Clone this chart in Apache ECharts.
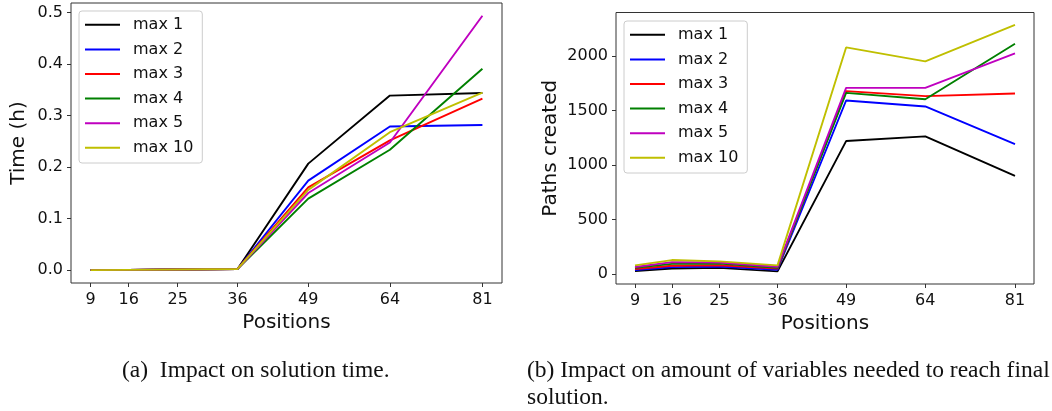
<!DOCTYPE html>
<html>
<head>
<meta charset="utf-8">
<script src="https://cdn.jsdelivr.net/npm/echarts@6/dist/echarts.min.js"></script>
<style>html,body{margin:0;padding:0;background:#fff}#c{width:1052px;height:411px}</style>
</head>
<body>
<div id="c"></div>
<script>
// ---- data ----
const positions = [9, 16, 25, 36, 49, 64, 81];
const seriesNames = ['max 1', 'max 2', 'max 3', 'max 4', 'max 5', 'max 10'];
const colors = ['#000000', '#0000ff', '#ff0000', '#008000', '#bf00bf', '#bfbf00'];

// Time (h)
const timeMax1  = [0.0003, 0.0008, 0.0015, 0.0025, 0.207, 0.339, 0.344];
const timeMax2  = [0.0003, 0.0008, 0.0015, 0.0025, 0.174, 0.279, 0.282];
const timeMax3  = [0.0003, 0.0008, 0.0015, 0.0025, 0.161, 0.252, 0.333];
const timeMax4  = [0.0003, 0.0008, 0.0015, 0.0025, 0.139, 0.234, 0.391];
const timeMax5  = [0.0003, 0.0008, 0.0015, 0.0025, 0.150, 0.248, 0.494];
const timeMax10 = [0.0003, 0.0008, 0.0015, 0.0025, 0.156, 0.268, 0.345];

// Paths created
const pathsMax1  = [26, 50, 55, 23, 1221, 1264, 901];
const pathsMax2  = [36, 62, 68, 38, 1594, 1539, 1194];
const pathsMax3  = [45, 75, 80, 48, 1680, 1634, 1658];
const pathsMax4  = [55, 92, 95, 55, 1664, 1606, 2116];
const pathsMax5  = [63, 108, 105, 65, 1710, 1710, 2027];
const pathsMax10 = [78, 127, 115, 78, 2082, 1954, 2290];

const timeTicks = [0, 0.1, 0.2, 0.3, 0.4, 0.5];
const pathsTicks = [0, 500, 1000, 1500, 2000];

const captionA = '(a)  Impact on solution time.';
const captionB = '(b) Impact on amount of variables needed to reach final\nsolution.';

// ---- build ----
const timeData = [timeMax1, timeMax2, timeMax3, timeMax4, timeMax5, timeMax10];
const pathsData = [pathsMax1, pathsMax2, pathsMax3, pathsMax4, pathsMax5, pathsMax10];

const FONT = 'DejaVu Sans';
const axisCol = '#333';

function xAxisCfg(gridIndex) {
  return {
    gridIndex, type: 'value', min: 5.4, max: 84.6,
    name: 'Positions', nameLocation: 'middle', nameGap: 28,
    nameTextStyle: { fontFamily: FONT, fontSize: 20, color: '#111' },
    axisLine: { show: false, onZero: false },
    splitLine: { show: false },
    axisTick: { show: true, inside: false, length: 4, customValues: positions, lineStyle: { color: axisCol } },
    axisLabel: { customValues: positions, margin: 9, fontFamily: FONT, fontSize: 16, color: '#111',
      formatter: v => String(v) }
  };
}
function yAxisCfg(gridIndex, min, max, ticks, name, gap, fmt) {
  return {
    gridIndex, type: 'value', min, max,
    name, nameLocation: 'middle', nameGap: gap,
    nameTextStyle: { fontFamily: FONT, fontSize: 20, color: '#111' },
    axisLine: { show: false, onZero: false },
    splitLine: { show: false },
    axisTick: { show: true, inside: false, length: 4, customValues: ticks, lineStyle: { color: axisCol } },
    axisLabel: { customValues: ticks, margin: 8, fontFamily: FONT, fontSize: 16, color: '#111', formatter: fmt }
  };
}
function legendCfg(left, top) {
  return {
    orient: 'vertical', left, top,
    data: seriesNames,
    icon: 'rect', itemWidth: 35, itemHeight: 2, itemGap: 8.6,
    padding: [5.8, 9, 7.2, 6],
    backgroundColor: 'rgba(255,255,255,0.8)',
    borderColor: '#cccccc', borderWidth: 1, borderRadius: 3,
    selectedMode: false,
    textStyle: { fontFamily: FONT, fontSize: 16, color: '#111', lineHeight: 16, padding: [0, 0, 0, 8] }
  };
}

const series = [];
seriesNames.forEach((n, i) => {
  series.push({
    name: n, type: 'line', xAxisIndex: 0, yAxisIndex: 0,
    data: positions.map((p, j) => [p, timeData[i][j]]),
    symbol: 'none', lineStyle: { width: 1.9, color: colors[i] }, itemStyle: { color: colors[i] },
    animation: false, z: 2 + i * 0.01
  });
});
seriesNames.forEach((n, i) => {
  series.push({
    name: n, type: 'line', xAxisIndex: 1, yAxisIndex: 1,
    data: positions.map((p, j) => [p, pathsData[i][j]]),
    symbol: 'none', lineStyle: { width: 1.9, color: colors[i] }, itemStyle: { color: colors[i] },
    animation: false, z: 2 + i * 0.01
  });
});

const capStyle = { fontFamily: 'Liberation Serif', fontSize: 23.5, fontWeight: 'normal', color: '#111', lineHeight: 27 };

const option = {
  animation: false,
  backgroundColor: '#fff',
  title: [
    { text: captionA, left: 122, top: 357, padding: 0, textStyle: capStyle },
    { text: captionB, left: 527, top: 357, padding: 0, textStyle: capStyle }
  ],
  grid: [
    { left: 71, top: 3, width: 431, height: 280, show: true, borderColor: axisCol, borderWidth: 1, backgroundColor: 'transparent' },
    { left: 616, top: 12.5, width: 418, height: 271.5, show: true, borderColor: axisCol, borderWidth: 1, backgroundColor: 'transparent' }
  ],
  xAxis: [xAxisCfg(0), xAxisCfg(1)],
  yAxis: [
    yAxisCfg(0, -0.0247, 0.5187, timeTicks, 'Time (h)', 42, v => v.toFixed(1)),
    yAxisCfg(1, -93, 2403, pathsTicks, 'Paths created', 55, v => String(v))
  ],
  legend: [legendCfg(79, 11), legendCfg(624, 21)],
  series
};

const chart = echarts.init(document.getElementById('c'), null, { renderer: 'canvas' });
chart.setOption(option);
</script>
</body>
</html>
